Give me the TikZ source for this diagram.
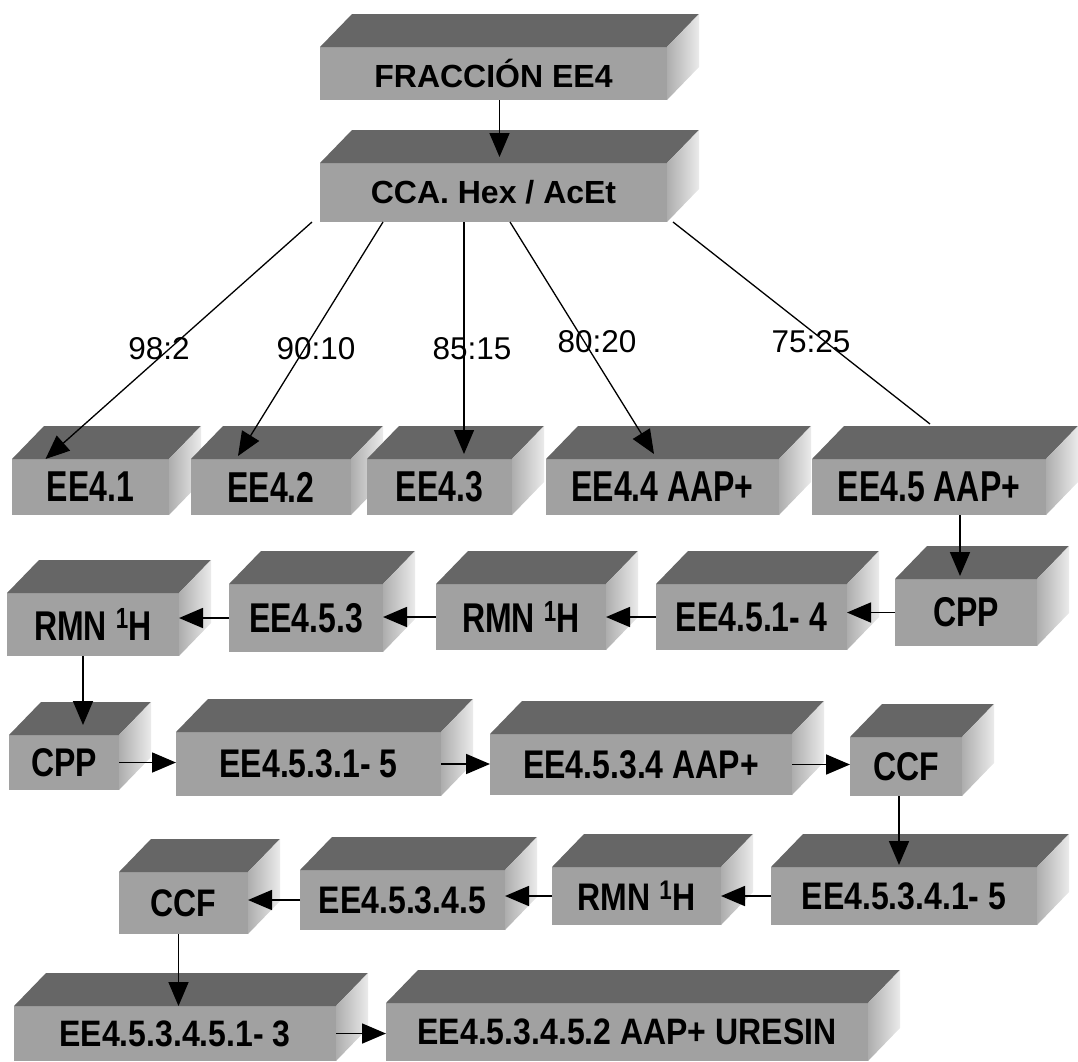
\documentclass[tikz,border=0pt]{standalone}
\usepackage{fontspec}
\usepackage{graphicx}
\setmainfont{Liberation Sans}
\usetikzlibrary{arrows.meta,calc}

\definecolor{frontgray}{gray}{0.63}
\definecolor{topgray}{gray}{0.40}
\definecolor{sidegray}{gray}{0.68}

\tikzset{
  front/.style={fill=frontgray, inner sep=0pt, outer sep=0pt,
    font=\fontsize{32}{36}\selectfont\bfseries},
  topface/.style={fill=topgray},
  sideface/.style={left color=sidegray, right color=white!92!black},
  arr/.style={-{Triangle[length=24pt,width=20pt]}, line width=1.7pt},
  fan/.style={arr, line width=1.3pt},
  ratio/.style={font=\fontsize{31.5}{36}\selectfont}
}

% one box: front node (text stretched by #1), then its top and right faces
\newcommand\slab[6][1]{%
  \node[front,minimum width=#3,minimum height=#4] (#2) at (#5) {\raisebox{-3pt}{\scalebox{1}[#1]{#6}}};
  \fill[topface] (#2.north west) -- ++(32,-33) -- ([shift={(32,-33)}]#2.north east) -- (#2.north east) -- cycle;
  \shade[sideface] (#2.north east) -- ++(32,-33) -- ([shift={(32,-33)}]#2.south east) -- (#2.south east) -- cycle;
}

\begin{document}
\begin{tikzpicture}[x=1pt,y=-1pt]
    \useasboundingbox (0,0) rectangle (1078,1061);

    \slab{fr}{347}{53}{493.5,73.5}{FRACCIÓN EE4}
    \slab{cca}{347}{59}{493.5,192.5}{CCA. Hex / AcEt}

    \slab[1.35]{e1}{157}{56}{90.5,487}{EE4.1}
    \slab[1.35]{e2}{160}{56}{271,487}{EE4.2}
    \slab[1.35]{e3}{145}{56}{439.5,487}{EE4.3}
    \slab[1.35]{e4}{233}{56}{662.5,487}{EE4.4 AAP+}
    \slab[1.35]{e5}{234}{56}{929,487}{EE4.5 AAP+}

    \slab[1.3]{rmnA}{172}{63}{93,624.5}{RMN \textsuperscript{1}H}
    \slab[1.3]{e53}{154}{68}{306,618}{EE4.5.3}
    \slab[1.3]{rmnB}{170}{66}{521,617}{RMN \textsuperscript{1}H}
    \slab[1.3]{e514}{191}{66}{751.5,617}{EE4.5.1- 4}
    \slab[1.3]{cppA}{142}{67}{966,612.5}{CPP}

    \slab[1.25]{cppB}{110}{55}{64,762.5}{CPP}
    \slab[1.25]{e5315}{265}{64}{308.5,764}{EE4.5.3.1- 5}
    \slab[1.25]{e534}{302}{61}{641,764.5}{EE4.5.3.4 AAP+}
    \slab[1.25]{ccfA}{112}{59}{906,766.5}{CCF}

    \slab[1.2]{ccfB}{129}{62}{183.5,903}{CCF}
    \slab[1.2]{e5345}{205}{60}{402.5,900}{EE4.5.3.4.5}
    \slab[1.2]{rmnC}{169}{58}{636.5,896}{RMN \textsuperscript{1}H}
    \slab[1.2]{e53415}{266}{58}{904,896}{EE4.5.3.4.1- 5}

    \slab[1.15]{e534513}{322}{55}{175,1033.5}{EE4.5.3.4.5.1- 3}
    \slab[1.15]{ures}{482}{58}{627,1032}{EE4.5.3.4.5.2 AAP+ URESIN}

    \draw[arr] ([xshift=6pt]fr.south) -- ([xshift=6pt,yshift=6pt]cca.north);

    \draw[fan] ([xshift=-181.5pt]cca.south) -- ([xshift=-45pt]e1.north);
    \draw[fan] ([xshift=-110.5pt]cca.south) -- ([xshift=-33pt,yshift=3pt]e2.north);
    \draw[fan] ([xshift=-29.5pt]cca.south) -- ([xshift=-29.5pt,yshift=5pt]cca.south |- e3.north);
    \draw[fan] ([xshift=16.5pt]cca.south) -- ([xshift=-8.5pt,yshift=5pt]e4.north);
    \draw[line width=1.3pt] ([xshift=179.5pt]cca.south) -- ([xshift=1pt,yshift=35pt]e5.north);

    \node[ratio] (r1) at (159,349) {98:2};
    \node[ratio] (r2) at (316,349) {90:10};
    \node[ratio] (r3) at (472,349) {85:15};
    \node[ratio] (r4) at (597,342) {80:20};
    \node[ratio] (r5) at (811,342) {75:25};

    \draw[arr] ([xshift=-6pt]cppA.north |- e5.south) -- ([xshift=-6pt,yshift=3pt]cppA.north);
    \draw[arr] (cppA.west) -- (cppA.west -| e514.east);
    \draw[arr] (e514.west) -- (e514.west -| rmnB.east);
    \draw[arr] (rmnB.west) -- (rmnB.west -| e53.east);
    \draw[arr] (e53.west) -- (e53.west -| rmnA.east);

    \draw[arr] ([xshift=-10pt]rmnA.south) -- ([xshift=19pt,yshift=10pt]cppB.north);
    \draw[arr] (cppB.east) -- (cppB.east -| e5315.west);
    \draw[arr] (e5315.east) -- (e5315.east -| e534.west);
    \draw[arr] (e534.east) -- (e534.east -| ccfA.west);

    \draw[arr] ([xshift=-7pt]ccfA.south) -- ([xshift=-7pt,yshift=2pt]ccfA.south |- e53415.north);
    \draw[arr] (e53415.west) -- (e53415.west -| rmnC.east);
    \draw[arr] (rmnC.west) -- (rmnC.west -| e5345.east);
    \draw[arr] (e5345.west) -- (e5345.west -| ccfB.east);

    \draw[arr] ([xshift=-5pt]ccfB.south) -- ([xshift=-5pt]ccfB.south |- e534513.north);
    \draw[arr] (e534513.east) -- (e534513.east -| ures.west);
\end{tikzpicture}
\end{document}
